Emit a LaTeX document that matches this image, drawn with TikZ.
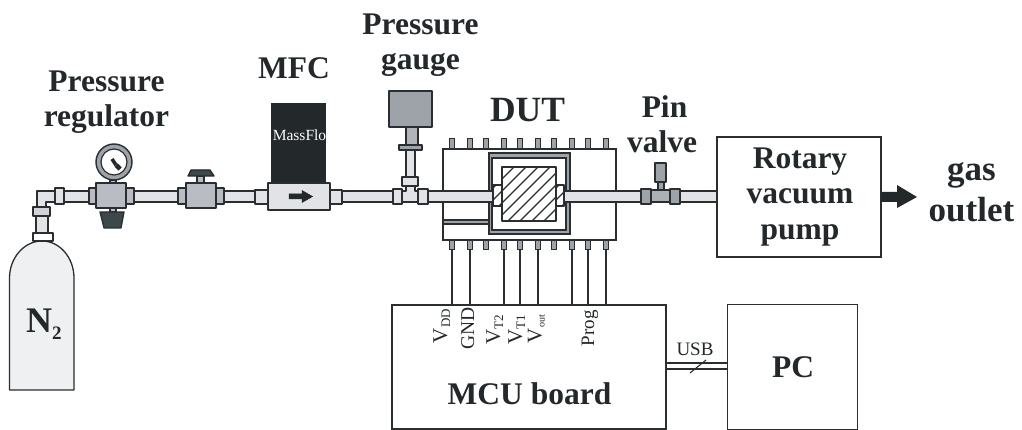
\documentclass[tikz,border=0pt]{standalone}
\usepackage{fontspec}
\setmainfont{Liberation Serif}
\definecolor{ln}{HTML}{2A2E30}
\definecolor{pipef}{HTML}{E1E3E6}
\definecolor{bodyf}{HTML}{B9BCC2}
\definecolor{midf}{HTML}{9EA3A9}
\definecolor{darkf}{HTML}{3E474B}
\definecolor{blk}{HTML}{23282A}
\definecolor{cylf}{HTML}{EFF0F2}
\newcommand{\fs}[1]{\fontsize{#1}{#1}\selectfont}
\newcommand{\sub}[2]{\raisebox{-3pt}{\fs{#1}#2}}
\tikzset{
  part/.style={draw=ln,line width=1.3pt,line join=round},
  pipe/.style={part,fill=pipef},
  bodyp/.style={part,fill=bodyf},
  midp/.style={part,fill=midf},
  darkp/.style={part,fill=darkf},
  thin box/.style={draw=ln,line width=1.3pt,fill=none},
  lbl/.style={font=\fs{31.5}\bfseries,align=center,text=blk,inner sep=0pt},
  sig/.style={rotate=90,anchor=base east,inner sep=0pt,font=\fs{21},text=blk},
  pin/.style={draw=ln,line width=1pt,fill=midf,minimum width=4.5pt,minimum height=10pt,inner sep=0pt,outer sep=0pt},
  wire/.style={draw=ln,line width=1.1pt},
  hatchl/.style={draw=ln,line width=1.2pt}
}
\newcommand{\hatchrect}[4]{%
  \begin{scope}
    \clip (#1,#2) rectangle (#3,#4);
    \foreach \k in {-90,-78,...,70}{\draw[hatchl] (#1+\k,#4) -- ++(80,-80);}
  \end{scope}
  \draw[part,fill=none] (#1,#2) rectangle (#3,#4);}
\begin{document}
\begin{tikzpicture}[x=1pt,y=-1pt]
\useasboundingbox (0,0) rectangle (1022,430);
% cylinder
\draw[part,fill=cylf] (9.5,390) -- (9.5,278) .. controls (9.5,258) and (24,241) .. (42,241) .. controls (60,241) and (74,258) .. (74,278) -- (74,390) -- cycle;
\draw[part,fill=white] (33,233) rectangle (53,241);
\draw[pipe] (36,216) rectangle (48,233);
% elbow pipe
\draw[pipe] (37,207) -- (37,191) -- (56,191) -- (56,202) -- (46,202) -- (46,207) -- cycle;
\draw[part,fill=pipef!60!bodyf] (33,207) rectangle (50,216);
\draw[pipe] (64,191) rectangle (90,202);
\draw[pipe] (55,188) rectangle (64,204);
% regulator
\draw[part,fill=bodyf] (110,180) rectangle (116,184);
\draw[part,fill=bodyf] (110,208) rectangle (116,212);
\draw[darkp] (100,212) -- (124,212) -- (121,228) -- (104,228) -- cycle;
\draw[bodyp] (89,188) rectangle (96,204);
\draw[bodyp] (126,188) rectangle (134,204);
\draw[bodyp] (96,183) rectangle (126,208);
\draw[part,fill=midf,line width=1.4pt] (114,162) circle (18);
\draw[part,fill=white,line width=1.2pt] (114,162) circle (13);
\draw[line width=3.6pt,draw=blk] (112,159) -- (116,165);
\draw[line width=4.6pt,draw=blk] (116,165) -- (120,169);
% pipe to ball valve
\draw[pipe] (134,191) rectangle (178,202);
\draw[part,fill=bodyf] (197,176) rectangle (204,184);
\draw[part,fill=darkf,draw=blk] (191,170) -- (210,170) -- (214,176) -- (188,176) -- cycle;
\draw[bodyp] (178,188) rectangle (186,204);
\draw[bodyp] (216,188) rectangle (224,204);
\draw[bodyp] (186,183) rectangle (216,208);
\draw[pipe] (224,191) rectangle (256,202);
% MFC
\node[fill=blk,minimum width=55pt,minimum height=80pt,inner sep=0pt] (mfcbox) at (298.5,143) {};
\node[text=white,font=\fs{15.5},inner sep=0pt] (mfctext) at (299.5,135) {MassFlo};
\draw[pipe] (255,190) rectangle (268,204);
\draw[pipe] (330,190) rectangle (342,204);
\draw[pipe] (268,183) rectangle (330,210);
\draw[fill=blk,draw=blk,line width=.5pt] (289,194) -- (302,194) -- (302,190.5) -- (312.5,196.5) -- (302,202.5) -- (302,199) -- (289,199) -- cycle;
% pipe to gauge tee
\draw[pipe] (342,191) rectangle (394,202);
\draw[part,fill=pipef] (406,150) rectangle (415,178);
\draw[midp] (399,145) rectangle (422,150);
\draw[part,fill=midf!80!white] (406,127) rectangle (418,145);
\draw[midp] (389,91) rectangle (432,127);
\draw[part,fill=pipef] (402,191) -- (406,191) -- (406,186) -- (415,186) -- (415,191) -- (418,191) -- (418,202) -- (402,202) -- cycle;
\draw[part,fill=pipef] (402,177) rectangle (418,186);
\draw[pipe] (393,189) rectangle (402,204);
\draw[pipe] (418,189) rectangle (428,204);
% DUT
\foreach \n/\x in {1/452,2/470,3/486,4/504,5/520,6/538,7/554,8/572,9/588,10/606}{
  \node[pin] (tp\n) at (\x,144) {};
  \node[pin] (bp\n) at (\x,245) {};
}
\node[draw=ln,line width=1.3pt,fill=white,minimum width=173pt,minimum height=91pt,inner sep=0pt] (dut) at (529.5,194.5) {};
\draw[draw=ln,line width=1.1pt,fill=midf] (443,220) rectangle (490,224);
\draw[draw=ln,line width=1.4pt,fill=midf] (489,153) rectangle (570,234);
\draw[draw=ln,line width=1.2pt,fill=white] (492,158) rectangle (566,230);
\hatchrect{502}{167}{556}{221}
\hatchrect{493}{185}{502}{206}
\hatchrect{556}{185}{564}{206}
\draw[pipe] (428,191) rectangle (493,202);
\draw[pipe] (564,191) rectangle (641,202);
% pin valve
\draw[part,fill=midf] (658,182) rectangle (664,191);
\draw[midp] (655,163) rectangle (666,182);
\draw[part,fill=midf!85!white] (650,190) rectangle (671,202);
\draw[midp] (641,189) rectangle (651,204);
\draw[midp] (670,189) rectangle (680,204);
\draw[pipe] (680,191) rectangle (717,202);
% pump
\node[thin box,minimum width=164pt,minimum height=120pt,inner sep=0pt,fill=white] (pump) at (799,197) {};
\node[lbl] (pumptext) at (800,197) {Rotary\\[4pt]vacuum\\[4pt]pump};
\draw[draw=none,fill=blk] (882,192) -- (897,192) -- (897,185) -- (917,197) -- (897,208) -- (897,202) -- (882,202) -- cycle;
% labels
\node[lbl] (lreg) at (106.5,102) {Pressure\\[3pt]regulator};
\node[lbl] (lmfc) at (294,68) {MFC};
\node[lbl] (lgauge) at (420.5,45) {Pressure\\[3pt]gauge};
\node[lbl,font=\fs{35.5}\bfseries] (ldut) at (527.5,110) {DUT};
\node[lbl] (lpin) at (662,124) {\hspace*{5pt}Pin\\[3pt]valve};
\node[lbl,font=\fs{35}\bfseries] (lgas) at (971.5,192) {gas\\[6pt]outlet};
% board, PC
\node[thin box,minimum width=274pt,minimum height=124pt,inner sep=0pt] (board) at (529,367) {};
\node[thin box,minimum width=130.5pt,minimum height=125pt,inner sep=0pt] (pc) at (792.5,367) {};
\node[lbl,anchor=base] (lmcu) at (529.5,404) {MCU board};
\node[lbl] (lpc) at (793,367) {PC};
\node[inner sep=0pt,font=\fs{36}\bfseries,text=blk,anchor=base west] (ln2) at (26,332) {N\raisebox{-7pt}{\fs{19}2}};
\foreach \n in {1,2,4,5,6,8,9,10}{\draw[wire] (bp\n.south) -- (bp\n.south |- board.north);}
\draw[wire] (board.east |- 0,363) -- (pc.west |- 0,363);
\draw[wire] (board.east |- 0,369) -- (pc.west |- 0,369);
\draw[wire] (690,373) -- (706,360);
\node[inner sep=0pt,font=\fs{19},text=blk] (lusb) at (695,349) {USB};
% signals
\node[sig] (svdd) at (447,309) {V\sub{13}{DD}};
\node[sig,font=\fs{19.5}] (sgnd) at (474,307) {GND};
\node[sig] (svt2) at (500,315) {V\sub{13}{T2}};
\node[sig] (svt1) at (522,315) {V\sub{13}{T1}};
\node[sig] (svout) at (541.5,315) {V\sub{10}{out}};
\node[sig,font=\fs{19}] (sprog) at (594,310) {Prog};
\end{tikzpicture}
\end{document}
